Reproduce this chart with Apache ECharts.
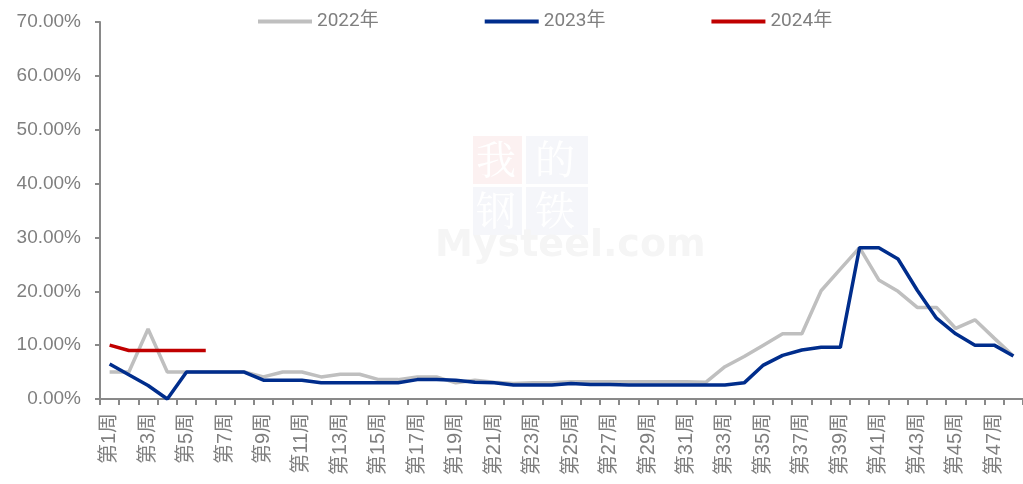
<!DOCTYPE html>
<html>
<head>
<meta charset="utf-8">
<script src="https://cdn.jsdelivr.net/npm/echarts@6/dist/echarts.min.js"></script>
<style>html,body{margin:0;padding:0;background:#fff}#c{width:1023px;height:484px}</style>
</head>
<body>
<div id="c"></div>
<script>
var categories = [];
for (var i = 1; i <= 48; i++) categories.push('第' + i + '周');

var yTicks = [0, 10, 20, 30, 40, 50, 60, 70];

var s2022 = [5, 5, 13, 5, 5, 5, 5, 5, 4.1, 5, 5, 4.1, 4.6, 4.6, 3.6, 3.6, 4.1, 4.1, 3.0, 3.5,
  3.1, 2.9, 3.0, 3.0, 3.2, 3.2, 3.2, 3.2, 3.2, 3.2, 3.2, 3.1, 6.0, 7.9, 10.0, 12.1, 12.1, 20.1, 24.1, 28.1,
  22.1, 20.0, 17.0, 17.0, 13.1, 14.7, 11.3, 8.0];
var s2023 = [6.5, 4.5, 2.5, 0, 5, 5, 5, 5, 3.5, 3.5, 3.5, 3.0, 3.0, 3.0, 3.0, 3.0, 3.6, 3.6, 3.5, 3.1,
  3.0, 2.6, 2.6, 2.6, 2.9, 2.7, 2.7, 2.6, 2.6, 2.6, 2.6, 2.6, 2.6, 3.0, 6.3, 8.1, 9.1, 9.6, 9.6, 28.1,
  28.1, 26.0, 20.2, 15.0, 12.1, 10.0, 10.0, 8.0];
var s2024 = [10, 9, 9, 9, 9, 9];

var seriesNames = ['2022年', '2023年', '2024年'];
var seriesColors = ['#BFBFBF', '#002D8C', '#C00000'];
var seriesData = [s2022, s2023, s2024];

var font = '"Liberation Sans", "Noto Sans CJK SC", sans-serif';
var legendFont = 'Roboto, "Noto Sans CJK SC", sans-serif';
var chart = echarts.init(document.getElementById('c'), null, {renderer: 'canvas'});

var series = seriesNames.map(function (n, k) {
  return {
    name: n, type: 'line', data: seriesData[k], symbol: 'none', showSymbol: false,
    lineStyle: {color: seriesColors[k], width: 3.5}, itemStyle: {color: seriesColors[k]},
    z: k === 0 ? 2 : (k === 1 ? 3 : 4)
  };
});

chart.setOption({
  animation: false,
  backgroundColor: '#fff',
  graphic: [
    {type: 'rect', left: 473, top: 136, shape: {width: 49, height: 48}, style: {fill: '#FCF1F1'}, z: -10},
    {type: 'rect', left: 526, top: 136, shape: {width: 62, height: 48}, style: {fill: '#F5F6FA'}, z: -10},
    {type: 'rect', left: 473, top: 187, shape: {width: 49, height: 48}, style: {fill: '#F5F6FA'}, z: -10},
    {type: 'rect', left: 526, top: 187, shape: {width: 62, height: 48}, style: {fill: '#F5F6FA'}, z: -10},
    {type: 'text', left: 476, top: 139, style: {text: '我', fill: '#fff', font: '40px "Noto Serif CJK SC", "Noto Sans CJK SC"'}, z: -9},
    {type: 'text', left: 535, top: 139, style: {text: '的', fill: '#fff', font: '40px "Noto Serif CJK SC", "Noto Sans CJK SC"'}, z: -9},
    {type: 'text', left: 476, top: 190, style: {text: '钢', fill: '#fff', font: '40px "Noto Serif CJK SC", "Noto Sans CJK SC"'}, z: -9},
    {type: 'text', left: 535, top: 190, style: {text: '铁', fill: '#fff', font: '40px "Noto Serif CJK SC", "Noto Sans CJK SC"'}, z: -9},
    {type: 'text', left: 435, top: 227, style: {text: 'Mysteel.com', fill: '#F5F5F5', font: 'bold 38px "DejaVu Sans", sans-serif'}, z: -9}
  ],
  legend: {
    left: 253, top: 7,
    icon: 'rect', itemWidth: 54, itemHeight: 4, itemGap: 106,
    textStyle: {color: '#7F7F7F', fontSize: 19, fontFamily: legendFont},
    data: seriesNames
  },
  grid: {left: 100, right: -2, top: 22, bottom: 85, containLabel: false},
  xAxis: {
    type: 'category', data: categories, boundaryGap: true,
    axisLine: {lineStyle: {color: '#898989', width: 2}},
    axisTick: {show: true, alignWithLabel: false, interval: 0, length: 6, lineStyle: {color: '#898989', width: 2}},
    axisLabel: {interval: 1, rotate: 90, color: '#7F7F7F', fontSize: 20, fontFamily: font, margin: 14}
  },
  yAxis: {
    type: 'value', min: 0, max: 70, interval: 10,
    axisLine: {show: true, lineStyle: {color: '#898989', width: 2}},
    axisTick: {show: true, length: 5, lineStyle: {color: '#898989', width: 2}},
    splitLine: {show: false},
    axisLabel: {
      color: '#7F7F7F', fontSize: 19, fontFamily: font, margin: 19,
      formatter: function (v) { return yTicks.indexOf(v) >= 0 ? v.toFixed(2) + '%' : ''; }
    }
  },
  series: series
});
</script>
</body>
</html>
